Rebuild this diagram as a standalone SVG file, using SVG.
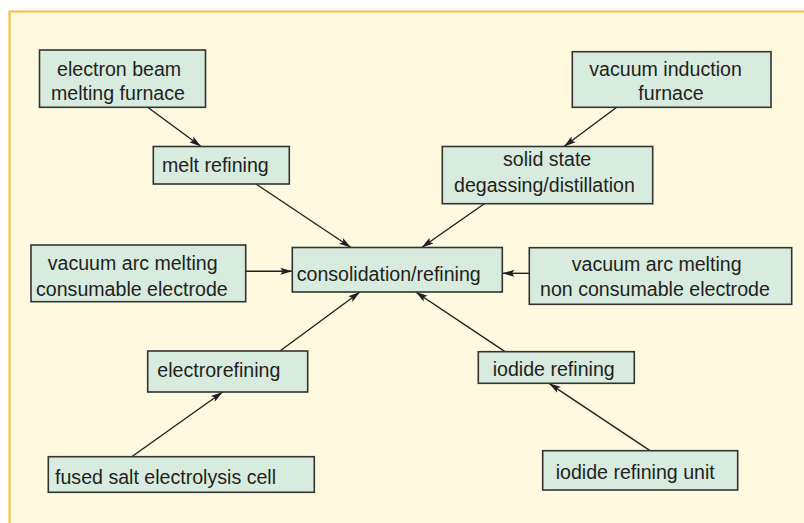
<svg xmlns="http://www.w3.org/2000/svg" width="804" height="523" viewBox="0 0 804 523">
<defs>
<marker id="ah" markerUnits="userSpaceOnUse" markerWidth="14" markerHeight="9" refX="12" refY="4.5" orient="auto">
<path d="M0,1 L12,4.5 L0,8 L2.5,4.5 Z" fill="#231f20"/>
</marker>
<style>
.bg{fill:#fffadf;stroke:#f7c44a;stroke-width:2.2}
.box{fill:#d8ebdf;stroke:#333;stroke-width:1.6}
.t{font-family:"Liberation Sans",Arial,sans-serif;font-size:19.6px;fill:#231f20}
.c{stroke:#231f20;stroke-width:1.4;fill:none;marker-end:url(#ah)}
</style>
</defs>
<rect x="0" y="0" width="804" height="523" fill="#ffffff"/>
<rect class="bg" x="9.5" y="11.5" width="810" height="530"/>
<g id="connectors">
<line class="c" x1="147.7" y1="107.3" x2="201" y2="146.5"/>
<line class="c" x1="616.7" y1="107.3" x2="564" y2="146.5"/>
<line class="c" x1="256" y1="184" x2="351" y2="247.5"/>
<line class="c" x1="484.3" y1="203.7" x2="421.7" y2="247.5"/>
<line class="c" x1="245.7" y1="271.3" x2="292.3" y2="271.3"/>
<line class="c" x1="529.3" y1="273.3" x2="502.5" y2="273.3"/>
<line class="c" x1="279.3" y1="351.5" x2="360" y2="292"/>
<line class="c" x1="505" y1="351.7" x2="415.7" y2="292"/>
<line class="c" x1="131.7" y1="456.7" x2="222.7" y2="392"/>
<line class="c" x1="650" y1="450.7" x2="549" y2="383.3"/>
</g>
<g id="ebmf">
<rect class="box" x="39.5" y="50" width="166" height="57.3"/>
<text class="t" x="57" y="76">electron beam</text>
<text class="t" x="51" y="100">melting furnace</text>
</g>
<g id="melt">
<rect class="box" x="153.3" y="146.5" width="136" height="37.5"/>
<text class="t" x="162" y="172">melt refining</text>
</g>
<g id="vif">
<rect class="box" x="572.3" y="51.7" width="198.7" height="55.6"/>
<text class="t" x="589.3" y="76">vacuum induction</text>
<text class="t" x="638.3" y="100">furnace</text>
</g>
<g id="solid">
<rect class="box" x="442.3" y="146.5" width="210.4" height="57.2"/>
<text class="t" x="503" y="166">solid state</text>
<text class="t" x="454" y="191.5">degassing/distillation</text>
</g>
<g id="vamc">
<rect class="box" x="31" y="245" width="214.7" height="56.7"/>
<text class="t" x="47.7" y="270">vacuum arc melting</text>
<text class="t" x="36" y="295.5">consumable electrode</text>
</g>
<g id="consol">
<rect class="box" x="292.3" y="247.5" width="210" height="44.5"/>
<text class="t" x="296.7" y="281">consolidation/refining</text>
</g>
<g id="vamnc">
<rect class="box" x="529.3" y="247.7" width="262.4" height="56.6"/>
<text class="t" x="571.7" y="270.7">vacuum arc melting</text>
<text class="t" x="540" y="296">non consumable electrode</text>
</g>
<g id="electro">
<rect class="box" x="147.7" y="351" width="160" height="41"/>
<text class="t" x="157.3" y="376.7">electrorefining</text>
</g>
<g id="iodide">
<rect class="box" x="478.3" y="351.7" width="156" height="31.6"/>
<text class="t" x="492.7" y="376">iodide refining</text>
</g>
<g id="fused">
<rect class="box" x="48.3" y="456.7" width="266" height="35.6"/>
<text class="t" x="55" y="484.3">fused salt electrolysis cell</text>
</g>
<g id="iodunit">
<rect class="box" x="542.7" y="450.7" width="195" height="39.3"/>
<text class="t" x="555.7" y="478.7">iodide refining unit</text>
</g>
</svg>
